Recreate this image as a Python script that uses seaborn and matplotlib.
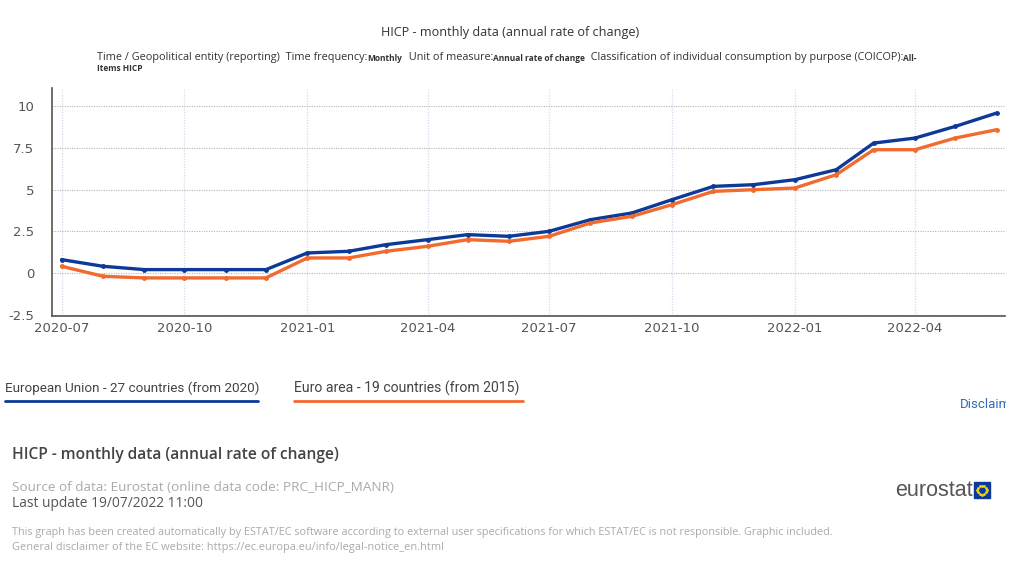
import matplotlib
matplotlib.use("Agg")
import matplotlib.pyplot as plt
import matplotlib.dates as mdates
from matplotlib.text import Annotation
from matplotlib.transforms import Bbox, TransformedBbox
import seaborn as sns
import numpy as np
import pandas as pd

# values (annual rate of change, %)
months = pd.date_range("2020-07-01", "2022-06-01", freq="MS")
eu27 = [0.8, 0.4, 0.2, 0.2, 0.2, 0.2, 1.2, 1.3, 1.7, 2.0, 2.3, 2.2,
        2.5, 3.2, 3.6, 4.4, 5.2, 5.3, 5.6, 6.2, 7.8, 8.1, 8.8, 9.6]
ea19 = [0.4, -0.2, -0.3, -0.3, -0.3, -0.3, 0.9, 0.9, 1.3, 1.6, 2.0, 1.9,
        2.2, 3.0, 3.4, 4.1, 4.9, 5.0, 5.1, 5.9, 7.4, 7.4, 8.1, 8.6]
series_names = ["European Union - 27 countries (from 2020)",
                "Euro area - 19 countries (from 2015)"]
colors = ["#0d3a99", "#f26a2e"]
yticks = [-2.5, 0, 2.5, 5, 7.5, 10]
ytick_labels = ["-2.5", "0", "2.5", "5", "7.5", "10"]

df = pd.DataFrame({
    "time": list(months) * 2,
    "value": eu27 + ea19,
    "geo": [series_names[0]] * len(months) + [series_names[1]] * len(months),
})

sns.set_style("white")
plt.rcParams["font.family"] = ["DejaVu Sans"]

fig = plt.figure(figsize=(10.24, 5.76), dpi=100)
ax = fig.add_axes([0.051, 0.451, 0.930, 0.396])

sns.lineplot(data=df, x="time", y="value", hue="geo", palette=colors,
             linewidth=2.4, marker="o", markersize=3.5, markeredgewidth=0,
             legend=False, ax=ax)

ax.set_xlim(months[0] - pd.Timedelta(days=7), months[-1] + pd.Timedelta(days=6))
ax.set_ylim(-2.6, 11.1)
ax.set_yticks(yticks)
ax.set_yticklabels(ytick_labels)
ax.xaxis.set_major_locator(mdates.MonthLocator(bymonth=(1, 4, 7, 10)))
ax.xaxis.set_major_formatter(mdates.DateFormatter("%Y-%m"))
ax.set_xlabel("")
ax.set_ylabel("")
ax.tick_params(axis="x", length=0, labelsize=9.5, labelcolor="#555555", pad=4)
ax.tick_params(axis="y", length=0, labelsize=9.5, labelcolor="#555555", pad=13)

ax.grid(axis="y", color="#b5b5b5", linestyle=(0, (1, 1.2)), linewidth=0.8)
ax.grid(axis="x", color="#d3dbee", linestyle=(0, (1, 1.2)), linewidth=0.9)
ax.set_axisbelow(True)
for side in ["top", "right"]:
    ax.spines[side].set_visible(False)
for side in ["left", "bottom"]:
    ax.spines[side].set_color("#555555")
    ax.spines[side].set_linewidth(1.2)

# title and subtitle
fig.text(0.498, 0.943, "HICP - monthly data (annual rate of change)",
         ha="center", va="center", fontsize=9.1, color="#333333", family="Open Sans")

sub_pieces = [
    ("Monthly", 6.0, "bold"),
    ("  Unit of measure:", 7.8, "normal"),
    ("Annual rate of change", 6.0, "bold"),
    ("  Classification of individual consumption by purpose (COICOP):", 7.8, "normal"),
    ("All-", 6.0, "bold"),
]
anchor = fig.text(0.095, 0.896, "Time / Geopolitical entity (reporting)  Time frequency:",
                  fontsize=7.8, color="#333333", family="Open Sans", va="baseline")
for txt, fs, wt in sub_pieces:
    anchor = fig.add_artist(Annotation(
        txt, xy=(1, 0), xycoords=anchor, xytext=(0, 0), textcoords="offset points",
        fontsize=fs, fontweight=wt, color="#333333", family="Open Sans",
        ha="left", va="bottom"))
fig.text(0.095, 0.876, "Items HICP", fontsize=6.0, fontweight="bold", color="#333333",
         family="Open Sans", va="baseline")

# legend as underlined labels
fig.text(0.005, 0.326, series_names[0], fontsize=9.7, color="#444444",
         family="Roboto", va="center")
fig.text(0.287, 0.326, series_names[1], fontsize=10.1, color="#444444",
         family="Roboto", va="center")
fig.add_artist(plt.Line2D([0.005, 0.252], [0.304, 0.304], color=colors[0], linewidth=2))
fig.add_artist(plt.Line2D([0.287, 0.511], [0.304, 0.304], color=colors[1], linewidth=2))
disc = fig.text(0.937, 0.298, "Disclaimer", fontsize=9.5, color="#2e6db5", family="Roboto",
                va="center")
disc.set_clip_box(TransformedBbox(Bbox([[0, 0], [0.982, 1]]), fig.transFigure))
disc.set_clip_on(True)

# footer
fig.text(0.012, 0.210, "HICP - monthly data (annual rate of change)", fontsize=11.2,
         color="#444444", family="Open Sans", fontweight="semibold", va="center")
fig.text(0.012, 0.154, "Source of data: Eurostat (online data code: PRC_HICP_MANR)",
         fontsize=9.7, color="#aaaaaa", family="Open Sans", va="center")
fig.text(0.012, 0.126, "Last update 19/07/2022 11:00", fontsize=9.9, color="#555555",
         family="Open Sans", va="center")
fig.text(0.012, 0.076, "This graph has been created automatically by ESTAT/EC software according "
         "to external user specifications for which ESTAT/EC is not responsible. Graphic included.",
         fontsize=7.8, color="#aaaaaa", family="Open Sans", va="center")
fig.text(0.012, 0.050, "General disclaimer of the EC website: https://ec.europa.eu/info/legal-notice_en.html",
         fontsize=7.9, color="#aaaaaa", family="Open Sans", va="center")
fig.text(0.874, 0.149, "eurostat", fontsize=15.5, color="#555555",
         family="Liberation Sans", va="center")
fig.add_artist(plt.Rectangle((0.951, 0.135), 0.016, 0.028, transform=fig.transFigure,
                             color="#0d3a99"))
ang = np.linspace(0, 2 * np.pi, 12, endpoint=False)
fig.add_artist(plt.Line2D(0.959 + 0.0045 * np.cos(ang), 0.149 + 0.008 * np.sin(ang),
                          linestyle="none", marker="o", markersize=1, color="#ffd400",
                          transform=fig.transFigure))

fig.savefig("out.png", dpi=100)
